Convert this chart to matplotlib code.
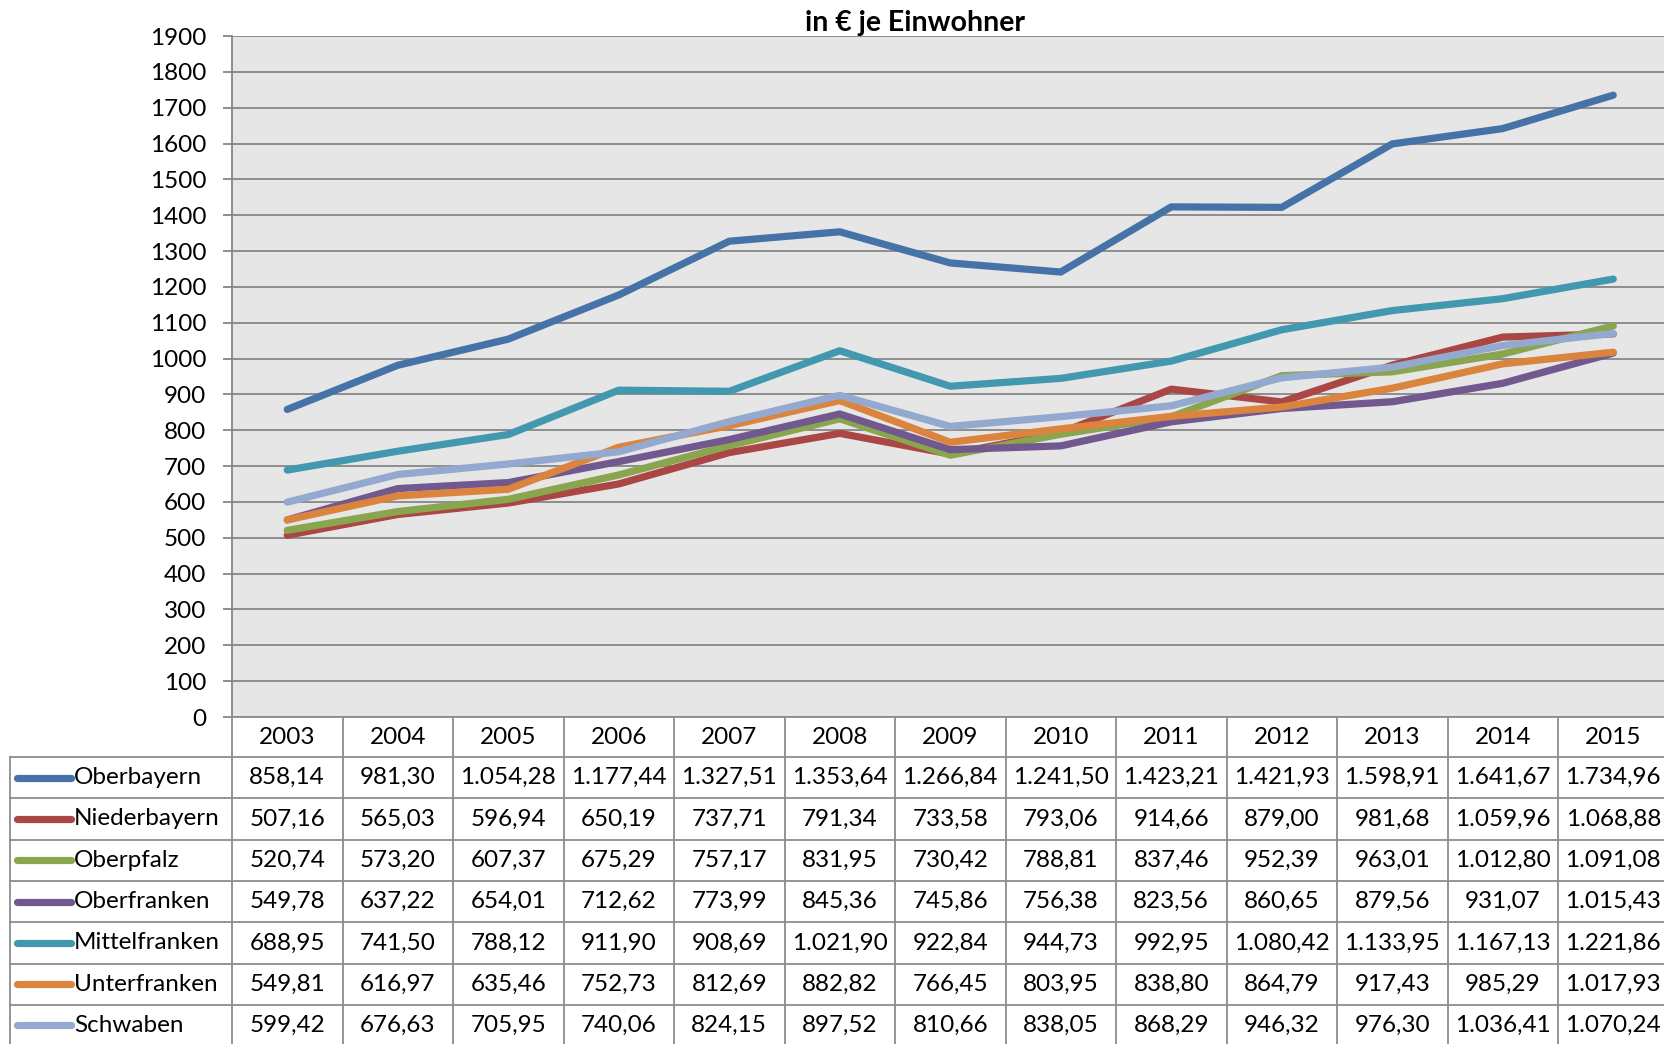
import matplotlib
matplotlib.use('Agg')
import matplotlib.pyplot as plt
import numpy as np

# Ausgaben in Euro je Einwohner, Regierungsbezirke Bayern 2003-2015

years = [2003, 2004, 2005, 2006, 2007, 2008, 2009, 2010, 2011, 2012, 2013, 2014, 2015]

oberbayern   = [858.14, 981.30, 1054.28, 1177.44, 1327.51, 1353.64, 1266.84, 1241.50, 1423.21, 1421.93, 1598.91, 1641.67, 1734.96]
niederbayern = [507.16, 565.03, 596.94, 650.19, 737.71, 791.34, 733.58, 793.06, 914.66, 879.00, 981.68, 1059.96, 1068.88]
oberpfalz    = [520.74, 573.20, 607.37, 675.29, 757.17, 831.95, 730.42, 788.81, 837.46, 952.39, 963.01, 1012.80, 1091.08]
oberfranken  = [549.78, 637.22, 654.01, 712.62, 773.99, 845.36, 745.86, 756.38, 823.56, 860.65, 879.56, 931.07, 1015.43]
mittelfranken = [688.95, 741.50, 788.12, 911.90, 908.69, 1021.90, 922.84, 944.73, 992.95, 1080.42, 1133.95, 1167.13, 1221.86]
unterfranken = [549.81, 616.97, 635.46, 752.73, 812.69, 882.82, 766.45, 803.95, 838.80, 864.79, 917.43, 985.29, 1017.93]
schwaben     = [599.42, 676.63, 705.95, 740.06, 824.15, 897.52, 810.66, 838.05, 868.29, 946.32, 976.30, 1036.41, 1070.24]

names = ['Oberbayern', 'Niederbayern', 'Oberpfalz', 'Oberfranken',
         'Mittelfranken', 'Unterfranken', 'Schwaben']
series = [oberbayern, niederbayern, oberpfalz, oberfranken,
          mittelfranken, unterfranken, schwaben]
colors = ['#4572A7', '#AA4643', '#89A54E', '#71588F', '#4198AF', '#DB843D', '#93A9CF']

title = 'in € je Einwohner'

def de(v):
    # german number format: 1.054,28
    s = '{:,.2f}'.format(v)
    return s.replace(',', 'X').replace('.', ',').replace('X', '.')

plt.rcParams['font.family'] = ['Lato', 'DejaVu Sans']

W, H = 1664, 1044
fig = plt.figure(figsize=(W / 100, H / 100), dpi=100)

# layout in pixels
left = 232
top = 36
bottom = 717
colw = 110.5
tab_left = 10
hdr_h = 40
row_h = 41.3
grid_c = '#868686'
fs = 17.5

ax = fig.add_axes([left / W, 1 - bottom / H, (W - left) / W, (bottom - top) / H])
ax.set_facecolor('#E6E6E6')
x = np.arange(len(years))
for vals, c in zip(series, colors):
    ax.plot(x, vals, color=c, lw=5.2, solid_capstyle='round',
            solid_joinstyle='round', zorder=3)
ax.set_xlim(-0.5, -0.5 + (W - left) / colw)
ax.set_ylim(0, 1900)
ax.set_yticks(np.arange(0, 2000, 100))
ax.set_xticks([])
ax.yaxis.grid(True, color=grid_c, lw=1.3)
ax.set_axisbelow(True)
for s in ['top', 'right', 'bottom']:
    ax.spines[s].set_visible(False)
ax.spines['left'].set_color(grid_c)
ax.spines['left'].set_linewidth(1.3)
ax.tick_params(axis='y', length=6.5, width=1.3, color=grid_c, pad=12,
               labelsize=fs, labelcolor='black')
ax.set_title(title, fontsize=20.5, fontweight='bold', pad=-1,
             x=(915 - left) / (W - left))

# data table below the chart
tax = fig.add_axes([0, 0, 1, 1], facecolor='none')
tax.set_xlim(0, W)
tax.set_ylim(H, 0)
tax.axis('off')
tc = '#8C8C8C'
lw = 1.3
ncol = len(years)
right = left + ncol * colw
nrow = len(names)
y_rows = [bottom + hdr_h + i * row_h for i in range(nrow + 1)]

# header
tax.plot([left, right], [bottom, bottom], color=tc, lw=lw)
for i, yr in enumerate(years):
    tax.text(left + (i + 0.5) * colw, bottom + hdr_h / 2, str(yr),
             ha='center', va='center', fontsize=fs)
# horizontal lines
for yy in y_rows:
    tax.plot([tab_left, right], [yy, yy], color=tc, lw=lw)
# vertical lines
tax.plot([tab_left, tab_left], [y_rows[0], y_rows[-1]], color=tc, lw=lw)
for i in range(ncol + 1):
    tax.plot([left + i * colw] * 2, [bottom, y_rows[-1]], color=tc, lw=lw)

for r, (nm, vals, c) in enumerate(zip(names, series, colors)):
    yc = y_rows[r] + row_h / 2
    tax.plot([17, 71], [yc, yc], color=c, lw=5.2, solid_capstyle='round')
    tax.text(74, yc, nm, ha='left', va='center', fontsize=fs)
    for i, v in enumerate(vals):
        tax.text(left + (i + 0.5) * colw, yc, de(v), ha='center', va='center',
                 fontsize=fs)

fig.savefig('out.png', dpi=100)
